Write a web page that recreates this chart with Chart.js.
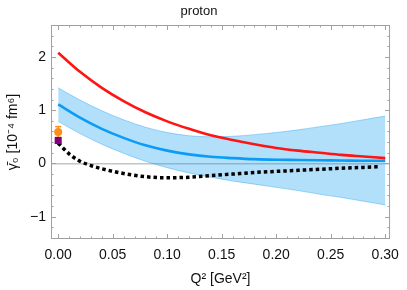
<!DOCTYPE html>
<html>
<head>
<meta charset="utf-8">
<script src="https://cdn.jsdelivr.net/npm/chart.js@4.4.0/dist/chart.umd.min.js"></script>
<style>
  html, body { margin: 0; padding: 0; background: #fff; }
  #wrap { width: 407px; height: 290px; }
</style>
</head>
<body>
<div id="wrap"><canvas id="chart"></canvas></div>
<script>
// Q^2 grid (GeV^2) for the curves
const q2 = [0, 0.02, 0.04, 0.06, 0.08, 0.10, 0.12, 0.14, 0.16, 0.18, 0.20, 0.22, 0.24, 0.26, 0.28, 0.30];
const redCurve = [2.08, 1.72, 1.42, 1.17, 0.96, 0.79, 0.65, 0.53, 0.44, 0.36, 0.29, 0.24, 0.20, 0.16, 0.13, 0.10];
const blueCurve = [1.11, 0.86, 0.65, 0.48, 0.34, 0.24, 0.17, 0.125, 0.10, 0.08, 0.07, 0.065, 0.06, 0.055, 0.05, 0.05];
const bandUpper = [1.42, 1.19, 0.99, 0.82, 0.68, 0.58, 0.52, 0.50, 0.51, 0.54, 0.58, 0.63, 0.69, 0.75, 0.82, 0.89];
const bandLower = [0.79, 0.56, 0.36, 0.19, 0.04, -0.08, -0.18, -0.26, -0.33, -0.39, -0.45, -0.51, -0.58, -0.64, -0.71, -0.78];

// black dashed curve has its own grid (steep start)
const q2Dashed = [0, 0.01, 0.02, 0.03, 0.04, 0.06, 0.08, 0.10, 0.12, 0.14, 0.16, 0.18, 0.20, 0.22, 0.24, 0.26, 0.28, 0.295];
const dashedCurve = [0.38, 0.18, 0.04, -0.04, -0.10, -0.19, -0.25, -0.27, -0.26, -0.23, -0.20, -0.17, -0.15, -0.13, -0.11, -0.09, -0.075, -0.06];

// data points at Q^2 = 0
const orangePoint = { x: 0, y: 0.59, err: 0.10 };
const purplePoint = { x: 0, y: 0.43 };

const xTicks = [0, 0.05, 0.10, 0.15, 0.20, 0.25, 0.30];
const yTicks = [-1, 0, 1, 2];

const FONT = 'Liberation Sans, Arial, Helvetica, sans-serif';

const pts = (xs, ys) => xs.map((x, i) => ({ x: x, y: ys[i] }));

// frame with inward ticks on all four sides
const framePlugin = {
  id: 'frame',
  afterDatasetsDraw(chart) {
    const { ctx, chartArea: a, scales: { x, y } } = chart;
    ctx.save();
    ctx.strokeStyle = '#a0a0a0';
    ctx.lineWidth = 1;
    ctx.strokeRect(a.left + 0.5, a.top + 0.5, a.right - a.left - 1, a.bottom - a.top - 1);
    ctx.beginPath();
    for (let k = 0; k <= 30; k++) {
      const v = k / 100;
      const px = Math.round(x.getPixelForValue(v)) + 0.5;
      const len = k % 5 === 0 ? 5 : 2.5;
      ctx.moveTo(px, a.bottom); ctx.lineTo(px, a.bottom - len);
      ctx.moveTo(px, a.top); ctx.lineTo(px, a.top + len);
    }
    for (let k = -7; k <= 13; k++) {
      const v = k / 5;
      const py = Math.round(y.getPixelForValue(v)) + 0.5;
      const len = k % 5 === 0 ? 5 : 2.5;
      ctx.moveTo(a.left, py); ctx.lineTo(a.left + len, py);
      ctx.moveTo(a.right, py); ctx.lineTo(a.right - len, py);
    }
    ctx.stroke();
    ctx.restore();
  }
};

new Chart(document.getElementById('chart'), {
  type: 'line',
  data: {
    datasets: [
      {
        label: 'purple',
        data: [purplePoint],
        showLine: false,
        pointStyle: 'rect',
        pointRadius: 5,
        pointBackgroundColor: '#800080',
        pointBorderWidth: 0
      },
      {
        label: 'orange',
        data: [orangePoint],
        showLine: false,
        pointRadius: 4,
        pointBackgroundColor: '#fb8f1a',
        pointBorderWidth: 0
      },
      {
        label: 'orange error',
        data: [{ x: orangePoint.x, y: orangePoint.y - orangePoint.err }, { x: orangePoint.x, y: orangePoint.y + orangePoint.err }],
        borderColor: '#fb8f1a',
        borderWidth: 1.5,
        pointStyle: 'line',
        pointRadius: 3,
        pointBorderColor: '#fb8f1a',
        pointBorderWidth: 1.5
      },
      {
        label: 'dashed',
        data: pts(q2Dashed, dashedCurve),
        borderColor: '#000',
        borderWidth: 3.5,
        borderDash: [3.5, 3],
        pointRadius: 0,
        cubicInterpolationMode: 'monotone'
      },
      {
        label: 'red',
        data: pts(q2, redCurve),
        borderColor: '#ff1414',
        borderWidth: 2.6,
        pointRadius: 0,
        cubicInterpolationMode: 'monotone'
      },
      {
        label: 'blue',
        data: pts(q2, blueCurve),
        borderColor: '#0b9cf5',
        borderWidth: 2.6,
        pointRadius: 0,
        cubicInterpolationMode: 'monotone'
      },
      {
        label: 'band upper',
        data: pts(q2, bandUpper),
        borderColor: 'rgba(0,150,240,0.35)',
        backgroundColor: 'rgba(0,150,240,0.3)',
        borderWidth: 1,
        pointRadius: 0,
        cubicInterpolationMode: 'monotone',
        fill: '+1'
      },
      {
        label: 'band lower',
        data: pts(q2, bandLower),
        borderColor: 'rgba(0,150,240,0.35)',
        borderWidth: 1,
        pointRadius: 0,
        cubicInterpolationMode: 'monotone',
        fill: false
      }
    ]
  },
  plugins: [framePlugin],
  options: {
    responsive: true,
    maintainAspectRatio: false,
    animation: false,
    events: [],
    layout: { padding: { left: 0, right: 9, top: 0, bottom: 2 } },
    plugins: {
      legend: { display: false },
      tooltip: { enabled: false },
      title: {
        display: true,
        text: 'proton',
        color: '#111',
        font: { family: FONT, size: 13, weight: 'normal' },
        padding: { top: 4, bottom: 5.4 }
      }
    },
    scales: {
      x: {
        type: 'linear',
        min: -0.0066,
        max: 0.3044,
        afterFit: s => { s.height = 49; },
        afterBuildTicks: s => { s.ticks = xTicks.map(v => ({ value: v })); },
        grid: { display: false, drawTicks: false },
        border: { display: false },
        ticks: {
          color: '#111',
          padding: 8,
          maxRotation: 0,
          font: { family: FONT, size: 14 },
          callback: v => v.toFixed(2)
        },
        title: {
          display: true,
          text: 'Q² [GeV²]',
          color: '#111',
          font: { family: FONT, size: 14 },
          padding: { top: 0, bottom: 0 }
        }
      },
      y: {
        type: 'linear',
        min: -1.42,
        max: 2.6,
        afterFit: s => { s.width = 51; },
        afterBuildTicks: s => { s.ticks = yTicks.map(v => ({ value: v })); },
        grid: {
          drawTicks: false,
          color: c => c.tick && c.tick.value === 0 ? '#c4c4c4' : 'rgba(0,0,0,0)',
          lineWidth: 1.5
        },
        border: { display: false },
        ticks: {
          color: '#111',
          padding: 5,
          font: { family: FONT, size: 14 },
          callback: v => String(v).replace('-', '\u2212')
        },
        title: {
          display: true,
          text: 'γ̄₀ [10⁻⁴ fm⁶]',
          color: '#111',
          font: { family: FONT, size: 14 },
          padding: { top: 5, bottom: 0 }
        }
      }
    }
  }
});
</script>
</body>
</html>
